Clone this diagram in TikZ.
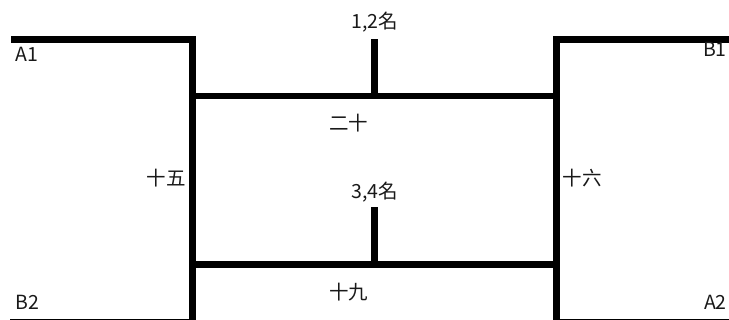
\documentclass[tikz,border=0pt]{standalone}
\usepackage{fontspec}
\setmainfont{Noto Sans CJK TC}
\usetikzlibrary{calc}

\begin{document}
\begin{tikzpicture}[x=1pt, y=-1pt,
            bracket/.style={line width=6.5pt, line join=miter, line cap=butt},
            lbl/.style={font=\fontsize{19.5}{22}\selectfont, inner sep=0pt, text=black!90}]
            \useasboundingbox (0,0) rectangle (729,320);
            \clip (0,0) rectangle (729,320);
            % outer brackets
            \coordinate (a1end) at (11,39.5);
            \coordinate (ltop) at (192.5,39.5);
            \coordinate (lbot) at (192.5,322);
            \coordinate (b2end) at (10,322);
            \coordinate (b1end) at (735,39.5);
            \coordinate (rtop) at (556.7,39.5);
            \coordinate (rbot) at (556.7,322);
            \coordinate (a2end) at (735,322);
            % inner rounds
            \coordinate (finl) at (192.5,96);
            \coordinate (finr) at (556.7,96);
            \coordinate (thrl) at (192.5,264.5);
            \coordinate (thrr) at (556.7,264.5);
            \coordinate (fintop) at (374.5,39.5);
            \coordinate (finmid) at (374.5,96);
            \coordinate (thrtop) at (374.5,207.5);
            \coordinate (thrmid) at (374.5,264.5);
            \draw [bracket] (a1end) -- (ltop) -- (lbot) -- (b2end);
            \draw [bracket] (b1end) -- (rtop) -- (rbot) -- (a2end);
            \draw [bracket] (finl) -- (finr);
            \draw [bracket] (thrl) -- (thrr);
            \draw [bracket] (fintop) -- (finmid);
            \draw [bracket] (thrtop) -- (thrmid);
            % labels
            \node [lbl, anchor=base west] (a1) at (15,62) {A1};
            \node [lbl, anchor=base east] (b1) at (727,57) {B1};
            \node [lbl, anchor=base west] (b2) at (15,310) {B2};
            \node [lbl, anchor=base east] (a2) at (727,310) {A2};
            \node [lbl, anchor=base] (champ) at (375,29) {1,2名};
            \node [lbl, anchor=base] (third) at (375,199) {3,4名};
            \node [lbl, anchor=base] (m20) at (348.5,131) {二十};
            \node [lbl, anchor=base] (m19) at (348.5,300) {十九};
            \node [lbl, anchor=base] (m15) at (166,186) {十五};
            \node [lbl, anchor=base] (m16) at (582,186) {十六};
        \end{tikzpicture}
\end{document}
